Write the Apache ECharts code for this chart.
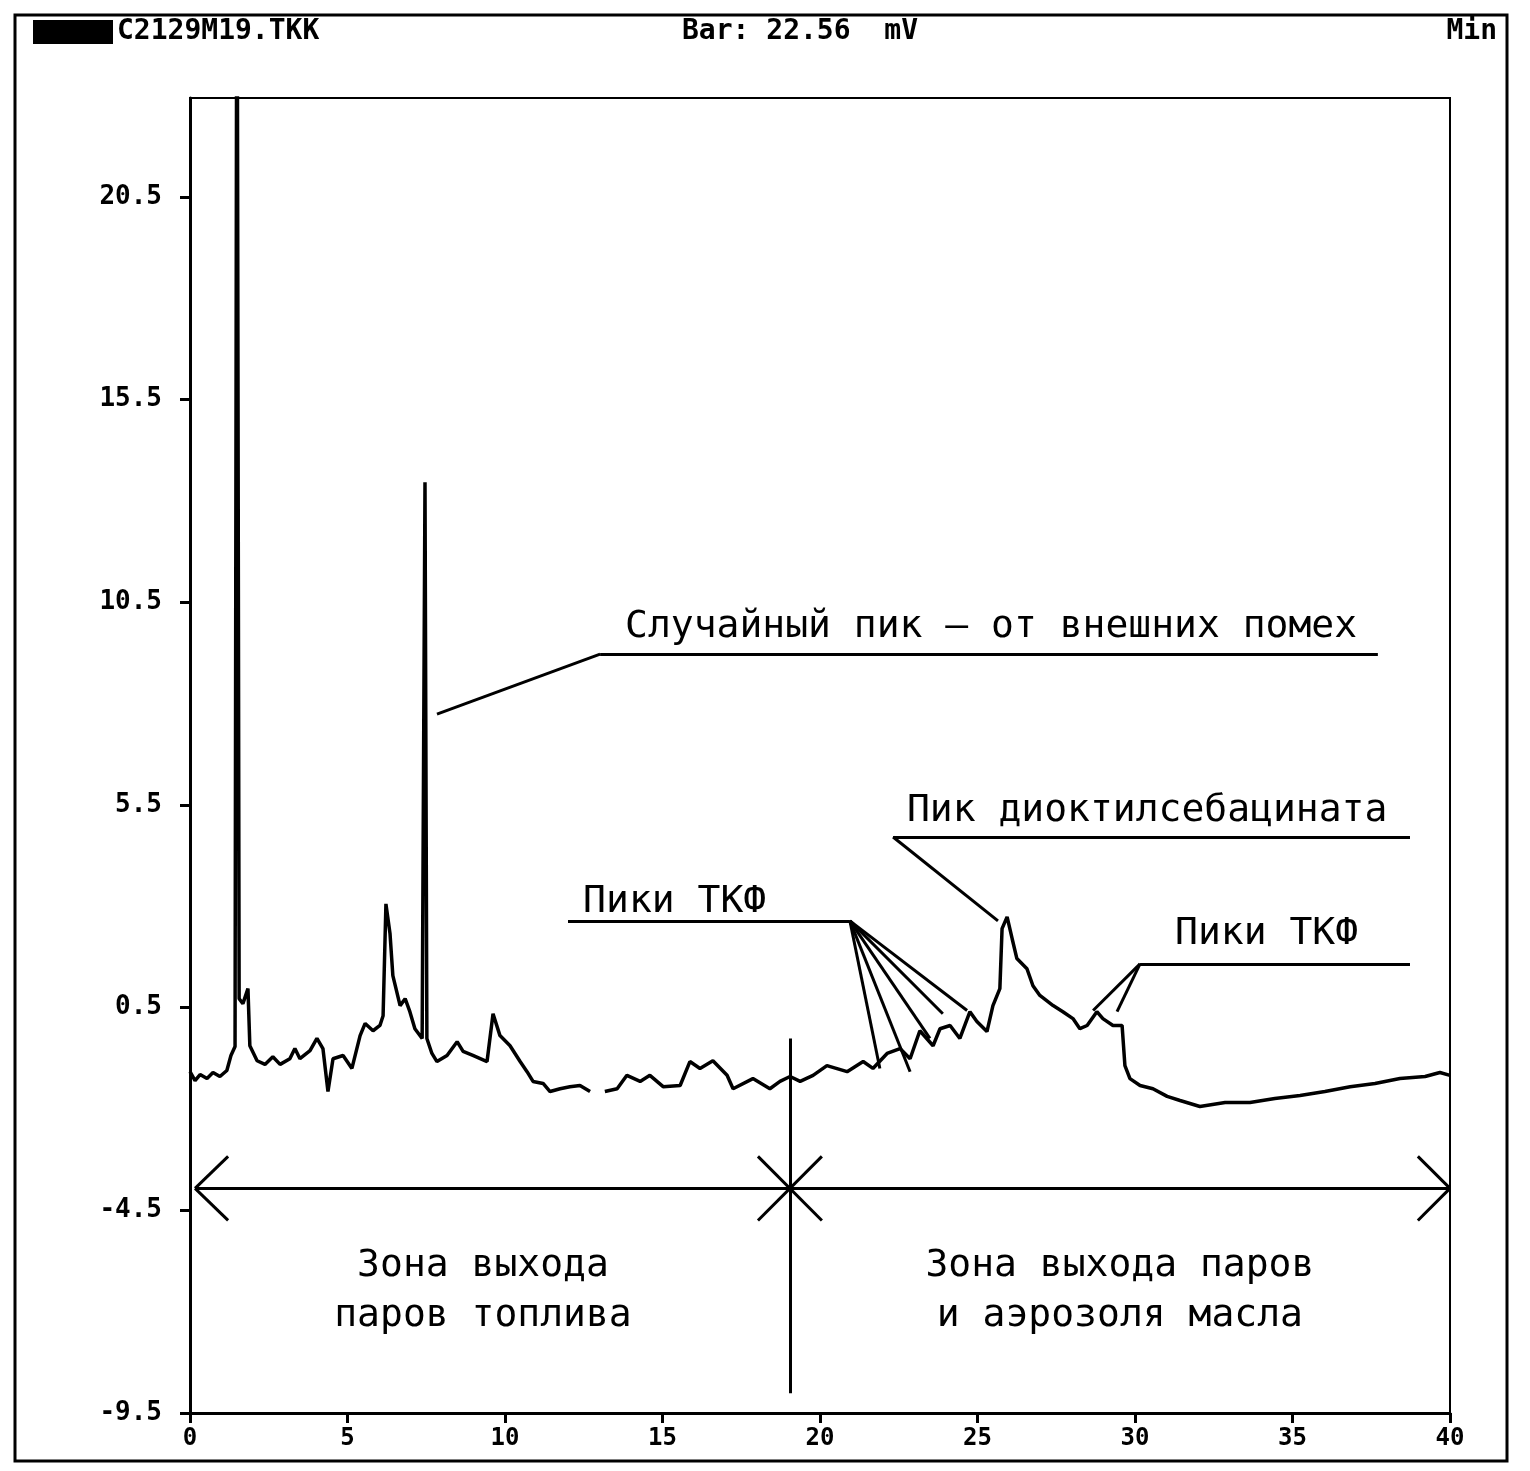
<!DOCTYPE html>
<html>
<head>
<meta charset="utf-8">
<script src="https://cdn.jsdelivr.net/npm/echarts@6/dist/echarts.min.js"></script>
<style>
  html, body { margin: 0; padding: 0; background: #fff; }
  #chart { width: 1530px; height: 1471px; }
</style>
</head>
<body>
<div id="chart"></div>
<script>
// хроматограмма: время, мин / сигнал, мВ
var times = [0.00, 0.16, 0.32, 0.54, 0.73, 0.95, 1.17, 1.30, 1.43, 1.49, 1.56, 1.68, 1.84, 1.90, 2.13, 2.38, 2.63, 2.86,
  3.17, 3.33, 3.49, 3.81, 4.03, 4.22, 4.38, 4.54, 4.86, 5.14, 5.40, 5.56, 5.81, 6.03, 6.13, 6.22, 6.35, 6.44, 6.67,
  6.83, 6.98, 7.14, 7.37, 7.46, 7.52, 7.68, 7.84, 8.16, 8.48, 8.67, 8.98, 9.43, 9.62, 9.84, 10.16, 10.48, 10.70,
  10.89, 11.21, 11.43, 11.75, 12.06, 12.38, 12.70, 12.95, 13.17, 13.56, 13.87, 14.29, 14.60, 15.02, 15.56, 15.87,
  16.19, 16.60, 17.05, 17.24, 17.87, 18.41, 18.73, 19.05, 19.37, 19.78, 20.22, 20.86, 21.37, 21.68, 22.13, 22.54,
  22.86, 23.17, 23.59, 23.81, 24.13, 24.44, 24.76, 24.98, 25.30, 25.49, 25.71, 25.78, 25.94, 26.10, 26.25, 26.57,
  26.76, 26.98, 27.40, 27.71, 28.03, 28.25, 28.48, 28.79, 28.98, 29.30, 29.59, 29.68, 29.84, 30.16, 30.57, 31.02,
  31.43, 32.06, 32.86, 33.65, 34.44, 35.24, 36.03, 36.83, 37.62, 38.41, 39.21, 39.68, 40.00];
var signal = [-1.08, -1.30, -1.15, -1.25, -1.10, -1.20, -1.05, -0.68, -0.46, 30.0, 0.72, 0.60, 0.97, -0.44, -0.81, -0.90, -0.71, -0.90,
  -0.76, -0.51, -0.76, -0.56, -0.26, -0.51, -1.57, -0.76, -0.68, -1.00, -0.19, 0.11, -0.07, 0.06, 0.30, 3.06, 2.32, 1.29, 0.55,
  0.72, 0.40, -0.02, -0.26, 13.46, -0.26, -0.63, -0.83, -0.68, -0.34, -0.58, -0.68, -0.83, 0.35, -0.19, -0.44, -0.83, -1.08,
  -1.32, -1.37, -1.57, -1.50, -1.45, -1.42, -1.57, null, -1.57, -1.50, -1.17, -1.32, -1.17, -1.45, -1.42, -0.83,
  -1.00, -0.81, -1.17, -1.50, -1.25, -1.50, -1.32, -1.20, -1.32, -1.17, -0.93, -1.08, -0.83, -1.00, -0.63, -0.51,
  -0.76, -0.07, -0.44, -0.02, 0.06, -0.26, 0.40, 0.16, -0.09, 0.55, 0.97, 2.45, 2.74, 2.20, 1.71, 1.46,
  1.04, 0.80, 0.55, 0.40, 0.23, -0.02, 0.06, 0.40, 0.23, 0.06, 0.06, -0.93, -1.25, -1.42, -1.50, -1.69,
  -1.79, -1.94, -1.84, -1.84, -1.74, -1.67, -1.57, -1.45, -1.37, -1.25, -1.20, -1.10, -1.17];

var xTicks = [0, 5, 10, 15, 20, 25, 30, 35, 40];
var yTicks = [-9.5, -4.5, 0.5, 5.5, 10.5, 15.5, 20.5];

// выноски и стрелки (в координатах графика)
var leaders = [
  [[13.02, 9.22], [37.71, 9.22]],
  [[13.02, 9.22], [7.84, 7.74]],
  [[22.32, 4.71], [38.73, 4.71]],
  [[22.32, 4.71], [25.65, 2.64]],
  [[12.0, 2.64], [20.95, 2.64]],
  [[20.95, 2.64], [21.90, -1.00]],
  [[20.95, 2.64], [22.86, -1.08]],
  [[20.95, 2.64], [23.49, -0.26]],
  [[20.95, 2.64], [23.90, 0.35]],
  [[20.95, 2.64], [24.67, 0.43]],
  [[30.16, 1.58], [38.73, 1.58]],
  [[30.16, 1.58], [28.67, 0.43]],
  [[30.16, 1.58], [29.43, 0.40]],
  [[0.16, -3.96], [40.0, -3.96]],
  [[0.16, -3.96], [1.21, -3.17]],
  [[0.16, -3.96], [1.21, -4.75]],
  [[40.0, -3.96], [38.98, -3.17]],
  [[40.0, -3.96], [38.98, -4.75]],
  [[18.03, -3.17], [20.06, -4.75]],
  [[18.03, -4.75], [20.06, -3.17]],
  [[19.05, -0.26], [19.05, -9.01]]
];
var notes = [
  { text: "Случайный пик – от внешних помех", at: [13.81, 9.88], align: "left" },
  { text: "Пик диоктилсебацината", at: [22.76, 5.35], align: "left" },
  { text: "Пики ТКФ", at: [12.48, 3.11], align: "left" },
  { text: "Пики ТКФ", at: [31.27, 2.32], align: "left" },
  { text: "Зона выхода", at: [9.30, -5.88], align: "center" },
  { text: "паров топлива", at: [9.30, -7.11], align: "center" },
  { text: "Зона выхода паров", at: [29.52, -5.88], align: "center" },
  { text: "и аэрозоля масла", at: [29.52, -7.11], align: "center" }
];

var myChart = echarts.init(document.getElementById("chart"));

var points = times.map(function (t, i) { return [t, signal[i]]; });
var monoFont = "'DejaVu Sans Mono', monospace";

var option = {
  backgroundColor: "#fff",
  animation: false,
  grid: {
    left: 190, right: 80, top: 98, bottom: 58,
    show: true, borderColor: "#000", borderWidth: 2
  },
  xAxis: {
    type: "value", min: 0, max: 40, interval: 5,
    axisLine: { show: true, onZero: false, lineStyle: { color: "#000", width: 3 } },
    axisTick: { show: true, length: 10, lineStyle: { color: "#000", width: 3 } },
    axisLabel: { color: "#000", fontFamily: monoFont, fontWeight: "bold", fontSize: 24, margin: 14 },
    splitLine: { show: false }
  },
  yAxis: {
    type: "value", min: -9.5, max: 22.94,
    axisLine: { show: true, onZero: false, lineStyle: { color: "#000", width: 3 } },
    axisTick: { show: true, length: 10, customValues: yTicks, lineStyle: { color: "#000", width: 3 } },
    axisLabel: {
      customValues: yTicks, color: "#000", fontFamily: monoFont, fontWeight: "bold", fontSize: 26, margin: 28,
      formatter: function (v) { return v.toFixed(1); }
    },
    splitLine: { show: false }
  },
  series: [
    {
      type: "line",
      data: points,
      symbol: "none",
      connectNulls: false,
      clip: true,
      lineStyle: { color: "#000", width: 3.5 }
    },
    {
      type: "lines",
      coordinateSystem: "cartesian2d",
      data: leaders.map(function (c) { return { coords: c }; }),
      lineStyle: { color: "#000", width: 3, opacity: 1 },
      silent: true
    }
  ]
};
myChart.setOption(option);

// подписи и рамка
var headFont = "bold 28px " + monoFont;
var graphics = [
  { type: "rect", shape: { x: 15, y: 15, width: 1492, height: 1446 }, style: { fill: "none", stroke: "#000", lineWidth: 3 } },
  { type: "rect", shape: { x: 33, y: 20, width: 80, height: 24 }, style: { fill: "#000" } },
  { type: "text", x: 117, y: 32, style: { text: "C2129M19.TKK", font: headFont, fill: "#000", verticalAlign: "middle" } },
  { type: "text", x: 682, y: 32, style: { text: "Bar: 22.56  mV", font: headFont, fill: "#000", verticalAlign: "middle" } },
  { type: "text", x: 1497, y: 32, style: { text: "Min", font: headFont, fill: "#000", align: "right", verticalAlign: "middle" } }
];
notes.forEach(function (n) {
  var p = myChart.convertToPixel({ gridIndex: 0 }, n.at);
  graphics.push({
    type: "text", x: p[0], y: p[1],
    style: { text: n.text, font: "38px " + monoFont, fill: "#000", align: n.align, verticalAlign: "middle" }
  });
});
myChart.setOption({ graphic: graphics });
</script>
</body>
</html>
